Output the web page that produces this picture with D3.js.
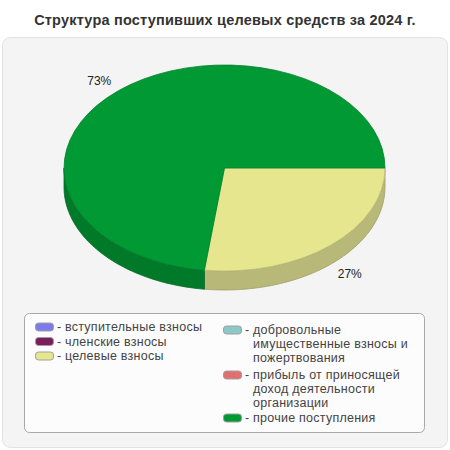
<!DOCTYPE html>
<html><head><meta charset="utf-8">
<script src="https://cdn.jsdelivr.net/npm/d3@7"></script>
<style>body{margin:0;background:#fff}svg{display:block}</style>
</head><body>
<svg id="c" width="450" height="450"></svg>
<script>
const title = "Структура поступивших целевых средств за 2024 г.";
const categories = ["вступительные взносы","членские взносы","целевые взносы","добровольные имущественные взносы и пожертвования","прибыль от приносящей доход деятельности организации","прочие поступления"];
const values = [0, 0, 27, 0, 0, 73];
const colors = ["#7b7be9","#7a1f5c","#e6e68f","#8cc8c8","#e07070","#009933"];
const sideColors = ["#5c5cb0","#5c1745","#b8b878","#6a9a9a","#a85454","#007a29"];
const legendLines = [["вступительные взносы"],["членские взносы"],["целевые взносы"],["добровольные","имущественные взносы и","пожертвования"],["прибыль от приносящей","доход деятельности","организации"],["прочие поступления"]];

const svg = d3.select("#c");
const W = 450;
// panel
svg.append("rect").attr("x",2.5).attr("y",37.5).attr("width",445).attr("height",410).attr("rx",8)
  .attr("fill","#f4f4f4").attr("stroke","#e2e2e2");
svg.append("text").attr("x",W/2).attr("y",25).attr("text-anchor","middle")
  .attr("font-family","Liberation Sans, Arial").attr("font-weight","bold").attr("font-size",14.5)
  .attr("letter-spacing",0.2).attr("fill","#333").text(title);

const cx = 224.5, cy = 168, rx = 160.5, ry = 103, depth = 19;
const pie = d3.pie().sort(null).value(d=>d.v).startAngle(Math.PI/2).endAngle(Math.PI/2+2*Math.PI);
const data = categories.map((c,i)=>({c, v:values[i], i}));
const arcs = pie(data).filter(a=>a.data.v>0);
const total = d3.sum(values);

function pt(a, dy){ return [cx + rx*Math.sin(a), cy - ry*Math.cos(a) + (dy||0)]; }
function sidePath(a0,a1){
  const lo = Math.max(a0, Math.PI/2), hi = Math.min(a1, 1.5*Math.PI);
  if (hi <= lo) return null;
  const n = 60, top = [], bot = [];
  for (let k=0;k<=n;k++){ const a = lo + (hi-lo)*k/n; top.push(pt(a,0)); bot.push(pt(a,depth)); }
  return d3.line()(top.concat(bot.reverse())) + "Z";
}
const gSide = svg.append("g");
arcs.forEach(a=>{
  const p = sidePath(a.startAngle, a.endAngle);
  if (p) gSide.append("path").attr("d",p).attr("fill",sideColors[a.data.i])
     .attr("stroke",d3.color(sideColors[a.data.i]).darker(0.4)).attr("stroke-width",0.8);
});
const arcGen = d3.arc().innerRadius(0).outerRadius(rx);
const gTop = svg.append("g").attr("transform",`translate(${cx},${cy}) scale(1,${ry/rx})`);
arcs.forEach(a=>{
  gTop.append("path").attr("d",arcGen(a)).attr("fill",colors[a.data.i])
    .attr("stroke",d3.color(colors[a.data.i]).darker(0.5)).attr("stroke-width",0.8)
    .attr("vector-effect","non-scaling-stroke");
});
// labels
arcs.forEach(a=>{
  const m = (a.startAngle+a.endAngle)/2, k = 1.18;
  const x = cx + rx*k*Math.sin(m);
  let y = cy - ry*k*Math.cos(m) + 4;
  if (-Math.cos(m) > 0) y += depth*0.55;
  svg.append("text").attr("x",x).attr("y",y).attr("text-anchor","middle").attr("dominant-baseline","central")
    .attr("font-family","Liberation Sans, Arial").attr("font-size",12).attr("fill","#222")
    .text(Math.round(a.data.v/total*100)+"%");
});
// legend
svg.append("rect").attr("x",24.5).attr("y",313.5).attr("width",400).attr("height",119).attr("rx",5)
  .attr("fill","#fcfcfc").attr("stroke","#a8a8a8");
const colX = [35, 223], lineH = 14;
const rowsY = [327, 341.5, 356, 330, 375, 418];
const gl = svg.append("g").attr("font-family","Liberation Sans, Arial").attr("font-size",12.5)
  .attr("letter-spacing",0.25).attr("fill","#444");
categories.forEach((c,i)=>{
  const x = colX[i<3?0:1], y = rowsY[i];
  gl.append("rect").attr("x",x+0.5).attr("y",y-4).attr("width",18).attr("height",8).attr("rx",3)
    .attr("fill",colors[i]).attr("stroke","#a0a0a0");
  gl.append("text").attr("x",x+22).attr("y",y).attr("dominant-baseline","central").text("-");
  legendLines[i].forEach((t,j)=>{
    gl.append("text").attr("x",x+30).attr("y",y+j*lineH).attr("dominant-baseline","central").text(t);
  });
});
</script>
</body></html>
